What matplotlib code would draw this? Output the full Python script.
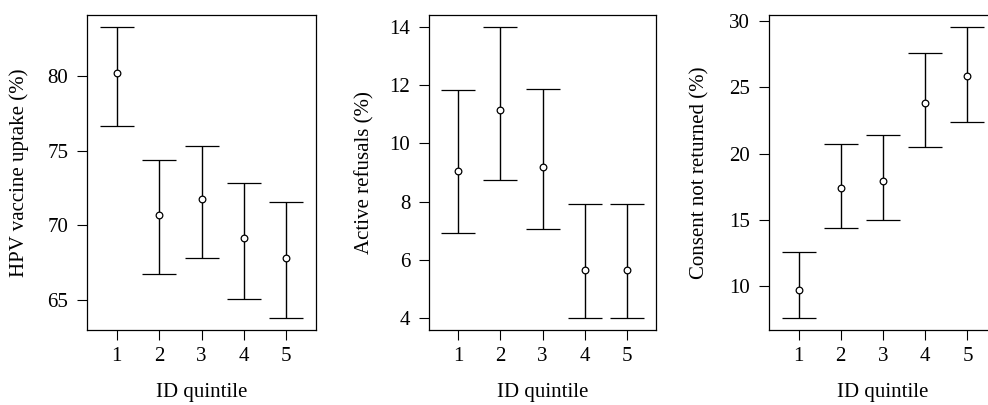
import matplotlib
matplotlib.use("Agg")
import matplotlib.pyplot as plt

quintile = [1, 2, 3, 4, 5]
xtick_labels = ["1", "2", "3", "4", "5"]

hpv_mean = [80.25, 70.70, 71.78, 69.15, 67.83]
hpv_low = [76.66, 66.75, 67.83, 65.09, 63.77]
hpv_high = [83.34, 74.40, 75.36, 72.85, 71.55]
hpv_yticks = [65, 70, 75, 80]

ref_mean = [9.06, 11.15, 9.19, 5.65, 5.65]
ref_low = [6.92, 8.76, 7.06, 4.00, 4.00]
ref_high = [11.84, 14.00, 11.87, 7.91, 7.91]
ref_yticks = [4, 6, 8, 10, 12, 14]

cnr_mean = [9.72, 17.37, 17.90, 23.81, 25.83]
cnr_low = [7.58, 14.42, 15.00, 20.48, 22.35]
cnr_high = [12.55, 20.73, 21.39, 27.60, 29.57]
cnr_yticks = [10, 15, 20, 25, 30]

ylabels = ["HPV vaccine uptake (%)", "Active refusals (%)", "Consent not returned (%)"]

plt.rcParams['font.family'] = ['Liberation Serif', 'DejaVu Serif']
plt.rcParams['font.size'] = 15

W, H = 988, 405
fig = plt.figure(figsize=(W / 100, H / 100), dpi=100)

boxes = [(87, 229), (429, 227), (769, 228)]
label_x = [-0.253, -0.238, -0.259]
top, bottom = 15, 330

panels = [
    (hpv_mean, hpv_low, hpv_high, hpv_yticks),
    (ref_mean, ref_low, ref_high, ref_yticks),
    (cnr_mean, cnr_low, cnr_high, cnr_yticks),
]

for i, (mean, low, high, yt) in enumerate(panels):
    left, width = boxes[i]
    ax = fig.add_axes([left / W, (H - bottom) / H, width / W, (bottom - top) / H])
    yerr = [[m - l for m, l in zip(mean, low)], [h - m for m, h in zip(mean, high)]]
    ax.errorbar(quintile, mean, yerr=yerr, fmt='o', mfc='white', mec='black',
                ms=4.8, mew=0.9, ecolor='black', elinewidth=1.0, capsize=12.2,
                capthick=1.0, color='black')
    lo, hi = min(low), max(high)
    r = hi - lo
    ax.set_ylim(lo - 0.04 * r, hi + 0.04 * r)
    ax.set_xlim(0.3, 5.7)
    ax.set_xticks(quintile)
    ax.set_xticklabels(xtick_labels)
    ax.set_yticks(yt)
    ax.tick_params(direction='out', length=7.5, width=0.8, pad=5)
    ax.tick_params(axis='y', pad=6)
    for s in ax.spines.values():
        s.set_linewidth(0.9)
    ax.set_ylabel(ylabels[i])
    ax.yaxis.set_label_coords(label_x[i], 0.5)
    ax.set_xlabel("ID quintile")
    ax.xaxis.set_label_coords(0.5, -0.168)

fig.savefig("out.png", dpi=100)
